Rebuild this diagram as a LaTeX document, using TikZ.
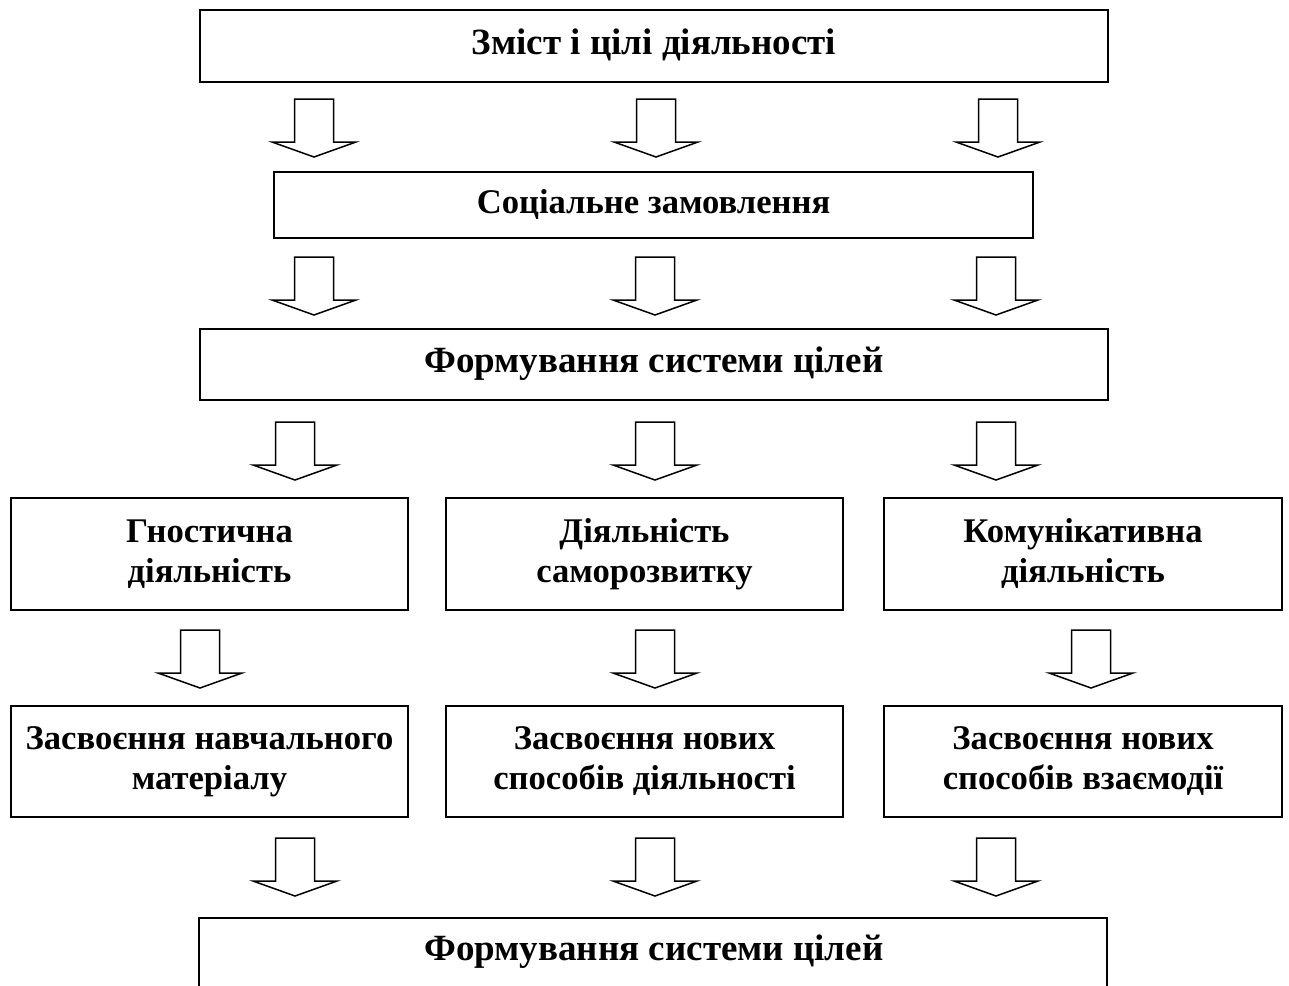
\documentclass[tikz,border=0pt]{standalone}
\usepackage{fontspec}
\setmainfont{Liberation Serif}
\begin{document}
\begin{tikzpicture}[x=1pt,y=-1pt,
  box/.style={draw, line width=1.8pt, rectangle, inner sep=0pt, align=center,
    font=\fontsize{34.6}{40}\selectfont\bfseries},
  big/.style={font=\fontsize{37}{42}\selectfont\bfseries},
  txt/.style={inner sep=0pt, align=center},
  arr/.style={draw, line width=1.5pt, fill=white, line join=miter}]
\useasboundingbox[fill=white] (0,0) rectangle (1289,985);
\newcommand{\barrow}[2]{%
  \draw[arr] ({#1-19.5},{#2}) -- ({#1+19.5},{#2}) -- ({#1+19.5},{#2+43})
    -- ({#1+42},{#2+43}) -- ({#1},{#2+58}) -- ({#1-42},{#2+43})
    -- ({#1-19.5},{#2+43}) -- cycle;}
% boxes
\node[box, big, minimum width=908pt, minimum height=72pt] (top) at (654,46) {\strut Зміст і цілі діяльності};
\node[box, minimum width=759pt, minimum height=66pt] (soc) at (653.5,205) {\strut Соціальне замовлення};
\node[box, big, minimum width=908pt, minimum height=71pt] (form1) at (654,364.5) {\strut Формування системи цілей};
\node[box, minimum width=397pt, minimum height=112pt] (gn) at (209.5,554) {\strut Гностична\\\strut діяльність};
\node[box, minimum width=397pt, minimum height=112pt] (dsr) at (644.5,554) {\strut Діяльність\\\strut саморозвитку};
\node[box, minimum width=398pt, minimum height=112pt] (kom) at (1083,554) {\strut Комунікативна\\\strut діяльність};
\node[box, minimum width=397pt, minimum height=111pt] (z1) at (209.5,761.5) {\strut Засвоєння навчального\\\strut матеріалу};
\node[box, minimum width=397pt, minimum height=111pt] (z2) at (644.5,761.5) {\strut Засвоєння нових\\\strut способів діяльності};
\node[box, minimum width=398pt, minimum height=111pt] (z3) at (1083,761.5) {\strut Засвоєння нових\\\strut способів взаємодії};
\node[txt, big] (form2) at (654,952) {\strut Формування системи цілей};
\coordinate (bl) at (199,990);
\coordinate (br) at (1107,990);
\draw[line width=1.8pt] (bl) |- (1107,918) -- (br);
% arrows
\barrow{314}{99}\barrow{656}{99}\barrow{998}{99}
\barrow{314}{257}\barrow{655}{257}\barrow{996}{257}
\barrow{295}{422}\barrow{655}{422}\barrow{996}{422}
\barrow{200}{630}\barrow{655}{630}\barrow{1091}{630}
\barrow{295}{838}\barrow{655}{838}\barrow{996}{838}
\end{tikzpicture}
\end{document}
